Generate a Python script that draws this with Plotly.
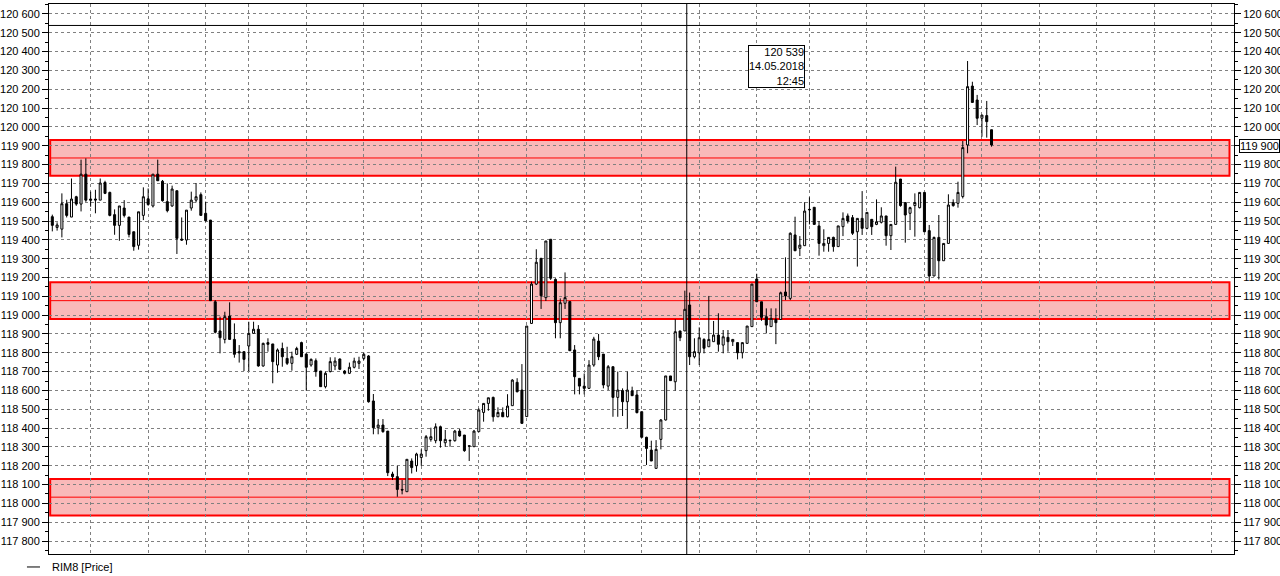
import plotly.graph_objects as go

opens = [119523,119466,119457,119592,119521,119629,119590,119749,119617,119617,
119611,119705,119652,119534,119477,119569,119521,119443,119371,119530,
119618,119580,119749,119711,119603,119580,119661,119404,119399,119569,
119611,119640,119541,119505,119071,118916,118871,118995,118871,118806,
118806,118836,118903,118925,118730,118854,118847,118735,118823,118770,
118744,118792,118854,118793,118735,118758,118703,118620,118700,118730,
118767,118703,118691,118723,118744,118770,118783,118544,118402,118416,
118384,118156,118142,118074,118062,118225,118200,118244,118280,118340,
118333,118407,118322,118336,118333,118384,118363,118306,118301,118381,
118483,118531,118563,118460,118483,118460,118519,118643,118602,118461,
118956,119165,119302,119093,119403,119190,118960,119063,119072,118815,
118664,118623,118611,118735,118862,118793,118623,118726,118563,118599,
118540,118597,118576,118487,118351,118283,118186,118340,118443,118677,
118646,118916,118916,119054,118779,118800,118871,118832,118859,118894,
118841,118882,118859,118854,118800,118850,118939,119192,119071,118992,
118939,118977,118977,119123,119089,119426,119355,119369,119562,119573,
119474,119369,119381,119413,119364,119470,119527,119518,119443,119514,
119461,119509,119482,119493,119527,119422,119482,119723,119598,119541,
119582,119571,119652,119449,119208,119413,119289,119381,119598,119594,
119630,119904,120217,120143,120046,120060,119985]
highs = [119534,119493,119647,119613,119726,119634,119826,119833,119656,119666,
119726,119714,119656,119562,119580,119611,119521,119443,119549,119679,
119673,119749,119826,119718,119700,119688,119661,119519,119558,119656,
119702,119652,119603,119505,119080,118992,119018,119068,118956,118841,
118806,118965,118965,118947,118854,118877,118847,118823,118854,118832,
118806,118832,118859,118797,118770,118770,118703,118700,118776,118776,
118770,118708,118748,118774,118779,118801,118788,118581,118448,118448,
118384,118168,118200,118124,118234,118239,118269,118287,118363,118402,
118425,118413,118390,118336,118390,118395,118363,118306,118390,118505,
118531,118561,118567,118510,118510,118580,118660,118665,118740,118942,
119178,119350,119302,119394,119403,119196,119089,119227,119072,118841,
118664,118690,118761,118885,118900,118793,118735,118726,118700,118611,
118700,118620,118602,118487,118354,118333,118336,118448,118677,118677,
118978,118916,119130,119120,118877,118935,118877,119102,118969,119010,
118921,118921,118871,118854,118854,118942,119165,119220,119071,119036,
119036,119036,119125,119307,119440,119523,119420,119600,119626,119573,
119500,119456,119413,119417,119474,119546,119540,119532,119514,119659,
119546,119509,119615,119573,119527,119482,119789,119723,119598,119576,
119647,119652,119652,119479,119417,119532,119381,119642,119615,119709,
119925,120350,120240,120170,120063,120138,119985]
lows = [119445,119449,119413,119519,119521,119581,119551,119602,119576,119541,
119611,119643,119525,119427,119395,119519,119413,119342,119348,119505,
119581,119572,119714,119603,119546,119576,119325,119395,119374,119555,
119599,119530,119497,119075,118903,118797,118850,118871,118774,118748,
118703,118703,118903,118726,118726,118806,118638,118694,118726,118735,
118705,118788,118779,118599,118726,118673,118620,118611,118696,118708,
118708,118685,118687,118717,118714,118761,118535,118367,118367,118375,
118145,118124,118035,118048,118062,118159,118168,118200,118248,118328,
118319,118296,118301,118301,118328,118354,118274,118225,118301,118381,
118434,118492,118434,118460,118460,118457,118519,118590,118422,118461,
118953,119160,119033,119075,119187,118877,118877,119033,118811,118579,
118579,118579,118611,118726,118761,118611,118602,118460,118460,118464,
118398,118572,118478,118351,118204,118225,118186,118287,118440,118652,
118599,118862,118916,118735,118770,118735,118797,118832,118859,118806,
118797,118806,118836,118765,118770,118850,118939,119071,118970,118903,
118939,118846,118977,119080,119080,119342,119314,119369,119482,119482,
119316,119337,119337,119337,119364,119420,119487,119426,119258,119426,
119456,119426,119478,119487,119369,119346,119482,119576,119385,119452,
119417,119567,119443,119178,119208,119190,119289,119381,119576,119571,
119620,119860,120130,120010,119948,119943,119895]
closes = [119477,119479,119592,119530,119617,119590,119749,119611,119611,119612,
119702,119647,119530,119477,119580,119530,119429,119364,119549,119629,
119588,119749,119714,119608,119555,119670,119408,119399,119558,119611,
119629,119530,119502,119077,118909,118880,118992,118871,118792,118800,
118765,118903,118925,118730,118850,118845,118753,118815,118779,118744,
118779,118823,118779,118723,118765,118700,118620,118691,118753,118756,
118712,118691,118723,118756,118756,118792,118540,118402,118416,118381,
118163,118142,118074,118071,118234,118190,118262,118262,118354,118354,
118407,118333,118340,118333,118384,118358,118280,118304,118384,118496,
118531,118561,118460,118483,118460,118517,118655,118593,118425,118942,
119165,119281,119103,119394,119196,118960,119066,119093,118811,118673,
118623,118611,118735,118873,118779,118629,118726,118563,118602,118540,
118602,118572,118482,118351,118292,118225,118287,118443,118677,118652,
118912,118880,119031,118779,118806,118880,118824,118871,118894,118845,
118885,118859,118871,118800,118854,118942,119165,119071,118988,118947,
118983,118960,119119,119102,119435,119342,119372,119553,119560,119482,
119381,119381,119413,119364,119474,119514,119500,119435,119514,119461,
119546,119470,119496,119527,119422,119482,119706,119582,119532,119571,
119598,119652,119443,119208,119413,119289,119381,119585,119582,119652,
119890,120214,120130,120046,120063,120028,119904]

grid_idx = [8, 20, 32, 41, 53, 65, 77, 89, 99, 111, 123, 135, 147, 158, 170, 182, 194, 206, 218, 230, 242]
zones = [(119740, 119930, 119835), (118980, 119175, 119077), (117935, 118130, 118033)]
tick_vals = list(range(117800, 120601, 100))
tick_text = [f"{v:,}".replace(",", " ") for v in tick_vals]
cross_price = 120539
cross_date = "14.05.2018"
cross_time = "12:45"
last_price = 119900
series_name = "RIM8 [Price]"

x = list(range(len(opens)))
FONT = "Liberation Sans, Arial, sans-serif"
fmt = lambda v: f"{v:,}".replace(",", " ")

fig = go.Figure()
fig.add_trace(go.Candlestick(
    x=x, open=opens, high=highs, low=lows, close=closes,
    increasing=dict(line=dict(color="black", width=1), fillcolor="white"),
    decreasing=dict(line=dict(color="black", width=1), fillcolor="black"),
    whiskerwidth=0, hoverinfo="skip", showlegend=False,
))
fig.add_trace(go.Scatter(x=[0], y=[119000], yaxis="y2", mode="markers",
                         marker=dict(opacity=0), hoverinfo="skip", showlegend=False))

shapes = []
for lo, hi, mid in zones:
    shapes.append(dict(type="rect", xref="paper", yref="y", x0=0.001, x1=0.9962, y0=lo, y1=hi,
                       fillcolor="#F9B9B9", line=dict(color="#FF0000", width=2), layer="below"))
    shapes.append(dict(type="line", xref="paper", yref="y", x0=0.001, x1=0.9962, y0=mid, y1=mid,
                       line=dict(color="#FF0000", width=1), layer="below"))
shapes.append(dict(type="line", xref="x", yref="paper", x0=132.4, x1=132.4, y0=0, y1=1,
                   line=dict(color="black", width=1)))
shapes.append(dict(type="line", xref="paper", yref="y", x0=0, x1=1, y0=cross_price, y1=cross_price,
                   line=dict(color="black", width=1)))
shapes.append(dict(type="line", xref="paper", yref="paper", x0=-0.0186, x1=-0.0076, y0=-0.0236, y1=-0.0236,
                   line=dict(color="black", width=1)))

annotations = [
    dict(xref="x", yref="y", x=157.0, y=120435, xanchor="right", yanchor="top",
         text=fmt(cross_price) + f"<br>{cross_date}<br>{cross_time}",
         showarrow=False, align="right", bgcolor="white", bordercolor="black", borderwidth=1, borderpad=0,
         font=dict(family=FONT, size=11, color="black")),
    dict(xref="paper", yref="y", x=1, y=last_price, xanchor="left", yanchor="middle", xshift=5,
         text=fmt(last_price), showarrow=False, bgcolor="white",
         bordercolor="black", borderwidth=1, borderpad=0,
         font=dict(family=FONT, size=11, color="black")),
    dict(xref="paper", yref="paper", x=0.0008, y=-0.0236, xanchor="left", yanchor="middle",
         text=series_name, showarrow=False, font=dict(family=FONT, size=11, color="black")),
]

def yax(side, texts, grid):
    return dict(side=side, range=[117731, 120653], tickvals=tick_vals, ticktext=texts,
                ticks="outside", ticklen=6, tickcolor="black", tickwidth=1,
                showline=True, linecolor="black", linewidth=1, zeroline=False,
                tickfont=dict(family=FONT, size=11, color="black"),
                minor=dict(dtick=50, tick0=0, ticks="outside", ticklen=3, tickcolor="black", showgrid=False),
                showgrid=grid, gridcolor="#808080", gridwidth=1, griddash="3px,3px",
                automargin=False, fixedrange=True)

right_text = ["" if v == last_price else t for v, t in zip(tick_vals, tick_text)]

fig.update_layout(
    width=1280, height=576,
    margin=dict(l=49, r=46, t=4, b=22, autoexpand=False),
    paper_bgcolor="white", plot_bgcolor="white",
    boxgap=0.4,
    showlegend=False,
    xaxis=dict(range=[-0.69, 246.6], tickvals=grid_idx, showticklabels=False, ticks="",
               showgrid=True, gridcolor="#808080", gridwidth=1, griddash="3px,3px",
               showline=True, linecolor="black", linewidth=1, mirror=True,
               zeroline=False, rangeslider=dict(visible=False), fixedrange=True, automargin=False),
    yaxis=yax("left", tick_text, True),
    yaxis2=dict(overlaying="y", **yax("right", right_text, False)),
    shapes=shapes,
    annotations=annotations,
    hovermode=False,
)

fig.write_html("out.html", config={"displayModeBar": False},
               post_script="document.body.style.margin='0';document.body.style.overflow='hidden';")
